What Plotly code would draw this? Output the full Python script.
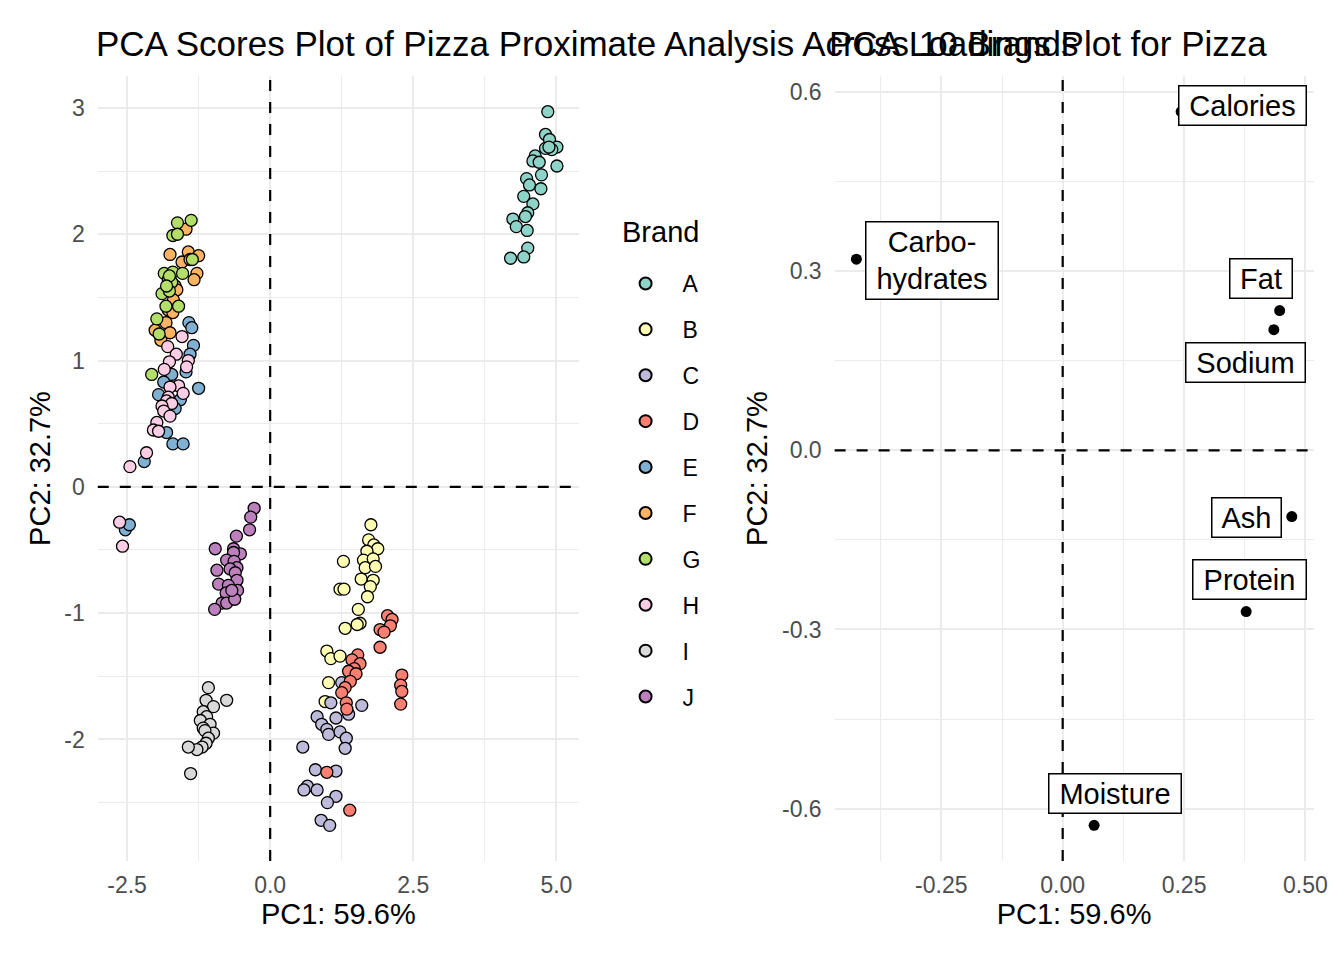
import plotly.graph_objects as go

# ---------------- data: PCA scores by brand ----------------
brands = ["A", "B", "C", "D", "E", "F", "G", "H", "I", "J"]
colors = ["#8DD3C7", "#FFFFB3", "#BEBADA", "#FB8072", "#80B1D3",
          "#FDB462", "#B3DE69", "#FCCDE5", "#D9D9D9", "#BC80BD"]

A_x = [4.85, 4.81, 4.88, 5.01, 4.92, 4.81, 4.87, 4.63, 4.59, 5.01, 4.74, 4.48, 4.53, 4.73, 4.43, 4.59, 4.50, 4.46, 4.24, 4.30, 4.49, 4.50, 4.43, 4.20, 4.70]
A_y = [2.97, 2.79, 2.75, 2.69, 2.67, 2.68, 2.69, 2.62, 2.58, 2.54, 2.47, 2.44, 2.39, 2.36, 2.30, 2.24, 2.17, 2.14, 2.12, 2.06, 2.03, 1.89, 1.82, 1.81, 2.57]
B_x = [1.76, 1.72, 1.81, 1.88, 1.69, 1.28, 1.63, 1.80, 1.66, 1.84, 1.59, 1.80, 1.75, 1.22, 1.29, 1.70, 1.54, 1.57, 1.52, 1.31, 0.99, 1.06, 1.22, 1.02, 0.96]
B_y = [-0.30, -0.42, -0.46, -0.49, -0.51, -0.59, -0.58, -0.57, -0.64, -0.63, -0.73, -0.74, -0.79, -0.81, -0.81, -0.87, -0.97, -1.08, -1.09, -1.12, -1.30, -1.36, -1.34, -1.55, -1.70]
C_x = [1.25, 1.06, 1.60, 1.37, 0.82, 1.15, 0.90, 0.99, 1.02, 1.22, 1.33, 1.31, 0.57, 0.79, 1.15, 0.65, 0.59, 0.82, 1.15, 1.00, 0.89, 1.04]
C_y = [-1.55, -1.71, -1.73, -1.80, -1.82, -1.83, -1.88, -1.92, -1.96, -1.94, -1.99, -2.07, -2.06, -2.24, -2.25, -2.37, -2.40, -2.40, -2.45, -2.50, -2.64, -2.68]
D_x = [2.05, 2.13, 2.10, 1.92, 1.99, 1.92, 1.53, 1.43, 1.57, 1.47, 1.37, 1.50, 2.30, 1.40, 2.28, 2.30, 1.31, 1.25, 1.33, 1.34, 2.28, 0.99, 1.39]
D_y = [-1.02, -1.05, -1.10, -1.13, -1.15, -1.27, -1.33, -1.37, -1.40, -1.44, -1.46, -1.48, -1.49, -1.54, -1.57, -1.62, -1.59, -1.63, -1.71, -1.76, -1.72, -2.26, -2.56]
E_x = [-1.42, -1.37, -1.34, -1.40, -1.47, -1.25, -1.72, -1.86, -1.95, -1.57, -1.66, -1.81, -1.70, -1.52, -2.20, -2.53, -2.46]
E_y = [1.30, 1.26, 1.12, 1.05, 0.91, 0.78, 0.89, 0.83, 0.73, 0.69, 0.62, 0.43, 0.34, 0.34, 0.20, -0.34, -0.30]
F_x = [-1.47, -1.75, -1.43, -1.54, -1.25, -1.28, -1.33, -1.66, -1.63, -1.69, -1.78, -1.70, -1.82, -2.01, -1.75, -1.91, -1.40]
F_y = [2.04, 1.84, 1.86, 1.78, 1.83, 1.69, 1.64, 1.59, 1.56, 1.48, 1.40, 1.38, 1.30, 1.24, 1.22, 1.16, 1.80]
G_x = [-1.62, -1.38, -1.70, -1.62, -1.36, -1.85, -1.70, -1.53, -1.78, -1.72, -1.89, -1.76, -1.82, -1.60, -1.98, -1.94, -2.07, -1.76, -1.81]
G_y = [2.09, 2.11, 1.99, 2.00, 1.80, 1.69, 1.70, 1.69, 1.64, 1.62, 1.53, 1.55, 1.43, 1.43, 1.33, 1.21, 0.89, 1.67, 1.59]
H_x = [-1.54, -1.79, -1.64, -1.76, -1.43, -1.46, -1.85, -1.60, -1.75, -1.52, -1.78, -1.81, -1.72, -1.89, -1.86, -1.75, -1.98, -2.04, -1.95, -2.16, -2.45, -2.63, -2.58]
H_y = [1.19, 1.11, 1.05, 0.99, 1.00, 0.95, 0.93, 0.80, 0.79, 0.74, 0.71, 0.68, 0.66, 0.64, 0.60, 0.56, 0.51, 0.45, 0.44, 0.27, 0.16, -0.28, -0.47]
I_x = [-1.08, -0.76, -1.12, -0.99, -1.17, -1.11, -1.22, -1.05, -1.17, -0.99, -1.14, -1.08, -1.12, -1.19, -1.28, -1.43, -1.39]
I_y = [-1.59, -1.69, -1.69, -1.74, -1.78, -1.82, -1.85, -1.88, -1.91, -1.95, -1.93, -1.99, -2.03, -2.06, -2.08, -2.06, -2.27]
J_x = [-0.28, -0.34, -0.36, -0.59, -0.96, -0.64, -0.52, -0.64, -0.76, -0.63, -0.58, -0.93, -0.70, -0.61, -0.58, -0.90, -0.73, -0.77, -0.57, -0.84, -0.76, -0.62, -0.97, -0.67]
J_y = [-0.17, -0.24, -0.34, -0.39, -0.49, -0.49, -0.53, -0.52, -0.58, -0.59, -0.64, -0.66, -0.65, -0.68, -0.74, -0.77, -0.78, -0.84, -0.82, -0.92, -0.92, -0.89, -0.97, -0.82]

scores = {
    "A": (A_x, A_y), "B": (B_x, B_y), "C": (C_x, C_y), "D": (D_x, D_y),
    "E": (E_x, E_y), "F": (F_x, F_y), "G": (G_x, G_y), "H": (H_x, H_y),
    "I": (I_x, I_y), "J": (J_x, J_y),
}

# ---------------- data: loadings ----------------
variables = ["Moisture", "Protein", "Fat", "Ash", "Sodium", "Carbohydrates", "Calories"]
var_labels = ["Moisture", "Protein", "Fat", "Ash", "Sodium", "Carbo-<br>hydrates", "Calories"]
load_pc1 = [0.0647, 0.378, 0.447, 0.472, 0.435, -0.425, 0.244]
load_pc2 = [-0.628, -0.270, 0.234, -0.111, 0.202, 0.320, 0.567]

pc1_label = "PC1: 59.6%"
pc2_label = "PC2: 32.7%"

# tick labels (ggplot style, ASCII hyphen minus)
score_x_ticks = [-2.5, 0.0, 2.5, 5.0]
score_x_text = ["-2.5", "0.0", "2.5", "5.0"]
score_y_ticks = [-2, -1, 0, 1, 2, 3]
score_y_text = ["-2", "-1", "0", "1", "2", "3"]
load_x_ticks = [-0.25, 0.0, 0.25, 0.50]
load_x_text = ["-0.25", "0.00", "0.25", "0.50"]
load_y_ticks = [-0.6, -0.3, 0.0, 0.3, 0.6]
load_y_text = ["-0.6", "-0.3", "0.0", "0.3", "0.6"]

# label placement (repel-like pixel offsets) and label box widths: styling only
label_shift = {
    "Moisture": (21, 32), "Protein": (3, 32), "Fat": (-19, 32), "Ash": (-45, -1),
    "Sodium": (-28, -33), "Carbohydrates": (76, -1), "Calories": (61, 6),
}
label_width = {
    "Moisture": 125, "Protein": 106, "Fat": 55, "Ash": 62,
    "Sodium": 112, "Carbohydrates": 125, "Calories": 120,
}

FONT = "Liberation Sans, Arial, Helvetica, sans-serif"
GRID = "#EBEBEB"
TICK = "#4D4D4D"
W, H = 1344, 960

fig = go.Figure()

for b, c in zip(brands, colors):
    xs, ys = scores[b]
    fig.add_trace(go.Scatter(
        x=xs, y=ys, mode="markers", name=b, legendgroup=b,
        marker=dict(color=c, size=12, line=dict(color="black", width=1.3)),
        xaxis="x", yaxis="y",
    ))

fig.add_trace(go.Scatter(
    x=load_pc1, y=load_pc2, mode="markers", showlegend=False,
    marker=dict(color="black", size=11), xaxis="x2", yaxis="y2",
))

def rng(vals, pad=0.05):
    lo, hi = min(vals), max(vals)
    d = (hi - lo) * pad
    return [lo - d, hi + d]

all_x = [v for b in brands for v in scores[b][0]]
all_y = [v for b in brands for v in scores[b][1]]

ydom = [0.1031, 0.9208]
axis_common = dict(
    showline=False, zeroline=False, showgrid=True, gridcolor=GRID, gridwidth=2,
    ticks="", tickfont=dict(family=FONT, size=23, color=TICK),
    title_font=dict(family=FONT, size=29, color="black"),
    tickmode="array",
)

fig.update_layout(
    width=W, height=H, autosize=False, margin=dict(l=0, r=0, t=0, b=0),
    paper_bgcolor="white", plot_bgcolor="white",
    font=dict(family=FONT, color="black"),
    xaxis=dict(domain=[98.8 / W, 584.9 / W], range=rng(all_x),
               tickvals=score_x_ticks, ticktext=score_x_text, ticklabelstandoff=8,
               minor=dict(tickmode="linear", tick0=0, dtick=1.25, showgrid=True, gridcolor=GRID, gridwidth=1),
               title=dict(text=pc1_label, standoff=4), anchor="y", **axis_common),
    yaxis=dict(domain=ydom, range=rng(all_y),
               tickvals=score_y_ticks, ticktext=score_y_text, ticklabelstandoff=12,
               minor=dict(tickmode="linear", tick0=0, dtick=0.5, showgrid=True, gridcolor=GRID, gridwidth=1),
               title=dict(text=pc2_label, standoff=5), anchor="x", **axis_common),
    xaxis2=dict(domain=[843.4 / W, 1327.4 / W], range=rng(load_pc1),
                tickvals=load_x_ticks, ticktext=load_x_text, ticklabelstandoff=8,
                minor=dict(tickmode="linear", tick0=0, dtick=0.125, showgrid=True, gridcolor=GRID, gridwidth=1),
                title=dict(text=pc1_label, standoff=4), anchor="y2", **axis_common),
    yaxis2=dict(domain=ydom, range=rng(load_pc2),
                tickvals=load_y_ticks, ticktext=load_y_text, ticklabelstandoff=12,
                minor=dict(tickmode="linear", tick0=0, dtick=0.15, showgrid=True, gridcolor=GRID, gridwidth=1),
                title=dict(text=pc2_label, standoff=5), anchor="x2", **axis_common),
    legend=dict(
        x=615 / W, y=1 - 262 / H, xanchor="left", yanchor="top",
        font=dict(family=FONT, size=23, color="black"),
        tracegroupgap=13, itemsizing="constant", itemwidth=64, bgcolor="rgba(0,0,0,0)",
    ),
    showlegend=True,
)

# legend title
fig.add_annotation(text="Brand", xref="paper", yref="paper", x=627 / W, y=1 - 232 / H,
                   xanchor="left", yanchor="middle", showarrow=False,
                   font=dict(family=FONT, size=29, color="black"))

# dashed reference lines at zero
for xr, yr in (("x", "y"), ("x2", "y2")):
    fig.add_shape(type="line", xref=xr, yref=yr + " domain", x0=0, x1=0, y0=0, y1=1,
                  line=dict(color="black", width=2.2, dash="11px,11px"), layer="above")
    fig.add_shape(type="line", xref=xr + " domain", yref=yr, x0=0, x1=1, y0=0, y1=0,
                  line=dict(color="black", width=2.2, dash="11px,11px"), layer="above")

# titles
fig.add_annotation(text="PCA Scores Plot of Pizza Proximate Analysis Across 10 Brands",
                   xref="paper", yref="paper", x=95 / W, y=1 - 44 / H, xanchor="left",
                   yanchor="middle", showarrow=False, font=dict(family=FONT, size=35, color="black"))
fig.add_annotation(text="PCA Loadings Plot for Pizza",
                   xref="paper", yref="paper", x=836 / W, y=1 - 44 / H, xanchor="left",
                   yanchor="middle", showarrow=False, font=dict(family=FONT, size=35, color="black"))

# loading labels
for v, lab, px, py in zip(variables, var_labels, load_pc1, load_pc2):
    dx, dy = label_shift[v]
    fig.add_annotation(text=lab, x=px, y=py, xref="x2", yref="y2", showarrow=False,
                       xshift=dx, yshift=dy, width=label_width[v], align="center",
                       font=dict(family=FONT, size=29, color="black"),
                       bgcolor="white", bordercolor="black", borderwidth=1.5, borderpad=3)

fig.write_html("out.html",
               config={"responsive": False, "displayModeBar": False},
               post_script="document.body.style.margin='0px';document.body.style.padding='0px';"
                           "document.documentElement.style.overflow='hidden';")
